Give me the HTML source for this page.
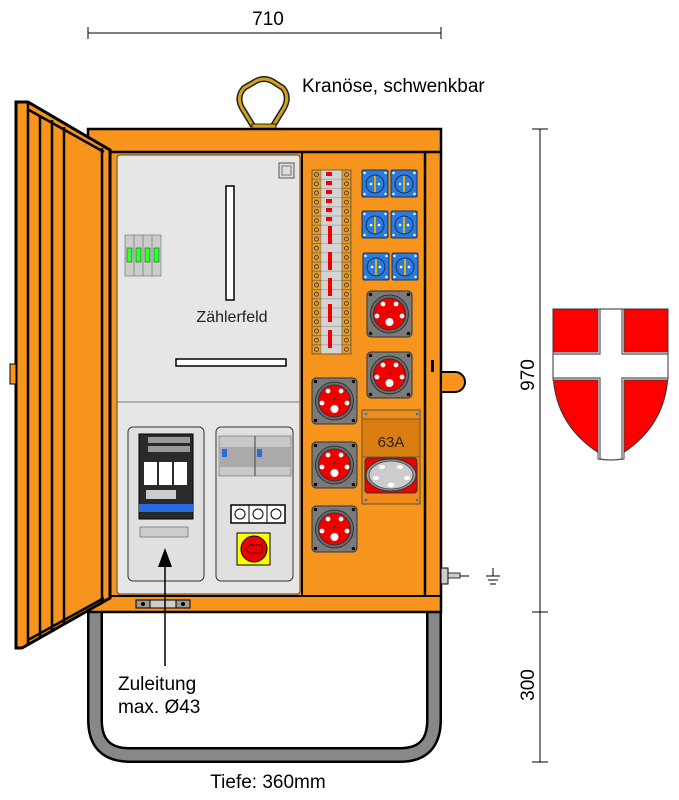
<!DOCTYPE html>
<html><head><meta charset="utf-8"><style>
html,body{margin:0;padding:0;background:#fff}
svg{display:block;font-family:"Liberation Sans",Arial,sans-serif}
</style></head><body>
<svg width="679" height="800" viewBox="0 0 679 800" xmlns="http://www.w3.org/2000/svg">
<defs>
<g id="cee">
<rect x="0" y="0" width="45" height="46" rx="4" fill="#7a7a7a" stroke="#333" stroke-width="1"/>
<circle cx="3.5" cy="3.5" r="1.8" fill="#111"/><circle cx="41.5" cy="3.5" r="1.8" fill="#111"/>
<circle cx="3.5" cy="42.5" r="1.8" fill="#111"/><circle cx="41.5" cy="42.5" r="1.8" fill="#111"/>
<circle cx="22.5" cy="23" r="19" fill="#6a6a6a" stroke="#333"/>
<circle cx="22.5" cy="23" r="16" fill="#e00" stroke="#333"/>
<circle cx="16" cy="13" r="2.4" fill="#fff"/><circle cx="29" cy="13" r="2.4" fill="#fff"/>
<circle cx="10" cy="25" r="2.4" fill="#fff"/><circle cx="35" cy="25" r="2.4" fill="#fff"/>
<circle cx="22.5" cy="31" r="4" fill="#fff"/><circle cx="22.5" cy="21" r="1" fill="#333"/>
</g>
<g id="schuko">
<rect x="0" y="0" width="26" height="27" rx="1.5" fill="#2a7ae0" stroke="#234"/>
<circle cx="2.5" cy="3" r="1.2" fill="#fff"/><circle cx="23.5" cy="3" r="1.2" fill="#fff"/>
<circle cx="2.5" cy="24" r="1.2" fill="#fff"/><circle cx="23.5" cy="24" r="1.2" fill="#fff"/>
<circle cx="13" cy="14" r="9" fill="#2a7ae0" stroke="#123" stroke-width="0.8"/>
<rect x="12" y="6" width="2" height="16" fill="#e0b000"/>
<circle cx="9" cy="14" r="1.3" fill="#fff"/><circle cx="17" cy="14" r="1.3" fill="#fff"/>
</g>
<pattern id="term" x="312" y="170" width="39" height="9.2" patternUnits="userSpaceOnUse">
<rect x="0" y="0" width="9" height="9.2" fill="#e89a2a" stroke="#553" stroke-width="0.6"/>
<circle cx="4.5" cy="4.6" r="2" fill="none" stroke="#333" stroke-width="0.8"/>
<rect x="9" y="0" width="21" height="9.2" fill="#d4d4d4" stroke="#888" stroke-width="0.5"/>
<rect x="30" y="0" width="9" height="9.2" fill="#e89a2a" stroke="#553" stroke-width="0.6"/>
<circle cx="34.5" cy="4.6" r="2" fill="none" stroke="#333" stroke-width="0.8"/>
</pattern>
</defs>

<line x1="88" y1="33" x2="441" y2="33" stroke="#000" stroke-width="1"/>
<line x1="88" y1="27" x2="88" y2="39" stroke="#000"/><line x1="441" y1="27" x2="441" y2="39" stroke="#000"/>
<text x="268" y="25" font-size="19" text-anchor="middle">710</text>
<text x="302" y="92" font-size="19">Kranöse, schwenkbar</text>

<path d="M95 608 V720 Q95 755 130 755 H400 Q434 755 434 720 V608" fill="none" stroke="#000" stroke-width="16"/>
<path d="M95 608 V720 Q95 755 130 755 H400 Q434 755 434 720 V608" fill="none" stroke="#888" stroke-width="11"/>

<path d="M253 126 L242 108 Q236 97 244 88 L256 81 Q264 77 272 81 L283 88 Q290 97 284 108 L273 126" fill="none" stroke="#222" stroke-width="6"/>
<path d="M253 126 L242 108 Q236 97 244 88 L256 81 Q264 77 272 81 L283 88 Q290 97 284 108 L273 126" fill="none" stroke="#d4a017" stroke-width="3"/>
<rect x="252" y="124" width="24" height="5" fill="#d4a017" stroke="#222"/>

<rect x="88" y="129" width="353" height="483" fill="#f7941d" stroke="#000" stroke-width="2.5"/>
<line x1="104" y1="152" x2="441" y2="152" stroke="#000" stroke-width="2.5"/>
<line x1="104" y1="596" x2="441" y2="596" stroke="#000" stroke-width="2"/>
<line x1="425" y1="152" x2="425" y2="596" stroke="#000" stroke-width="2.5"/>
<line x1="302" y1="152" x2="302" y2="596" stroke="#000" stroke-width="2"/>
<rect x="117" y="155" width="183" height="439" rx="3" fill="#e6e6e6" stroke="#444" stroke-width="1"/>
<line x1="117" y1="402" x2="300" y2="402" stroke="#777" stroke-width="1"/>
<rect x="279" y="163" width="15" height="15" fill="#ddd" stroke="#555"/>
<rect x="282" y="166" width="9" height="9" fill="none" stroke="#777"/>
<rect x="226" y="186" width="8" height="114" fill="#fff" stroke="#000" stroke-width="1.5"/>
<rect x="176" y="359" width="110" height="7" fill="#fff" stroke="#000" stroke-width="1.5"/>
<text x="232" y="322" font-size="16" text-anchor="middle" fill="#222">Zählerfeld</text>
<g stroke="#666" stroke-width="0.6">
<rect x="125" y="235" width="36" height="41" fill="#ccc"/>
<rect x="127" y="248" width="5" height="14" fill="#3f3" stroke="#060"/><rect x="136" y="248" width="5" height="14" fill="#3f3" stroke="#060"/>
<rect x="145" y="248" width="5" height="14" fill="#3f3" stroke="#060"/><rect x="154" y="248" width="5" height="14" fill="#3f3" stroke="#060"/>
<line x1="134" y1="235" x2="134" y2="276"/><line x1="143" y1="235" x2="143" y2="276"/><line x1="152" y1="235" x2="152" y2="276"/>
</g>
<rect x="128" y="427" width="76" height="154" rx="5" fill="#e0e0e0" stroke="#333"/>
<rect x="216" y="427" width="77" height="154" rx="5" fill="#e0e0e0" stroke="#333"/>
<rect x="139" y="434" width="54" height="85" fill="#2a2a2a" stroke="#000"/>
<rect x="148" y="437" width="42" height="6" fill="#999"/><rect x="148" y="446" width="42" height="6" fill="#999"/>
<rect x="144" y="462" width="13" height="23" fill="#fff"/><rect x="159" y="462" width="13" height="23" fill="#fff"/><rect x="174" y="462" width="13" height="23" fill="#fff"/>
<rect x="146" y="490" width="30" height="9" fill="#ccc"/>
<rect x="139" y="504" width="54" height="8" fill="#2a6ae0"/>
<rect x="140" y="527" width="48" height="10" fill="#ccc" stroke="#555" stroke-width="0.6"/>
<rect x="219" y="436" width="72" height="40" fill="#c8c8c8" stroke="#666" stroke-width="0.6"/>
<rect x="219" y="447" width="72" height="20" fill="#aaa"/>
<rect x="222" y="449" width="5" height="8" fill="#2a6ae0"/><rect x="257" y="449" width="5" height="8" fill="#2a6ae0"/>
<line x1="255" y1="436" x2="255" y2="476" stroke="#444"/>
<rect x="231" y="505" width="54" height="18" fill="#fff" stroke="#000" stroke-width="1.5"/>
<line x1="249" y1="505" x2="249" y2="523" stroke="#000"/><line x1="267" y1="505" x2="267" y2="523" stroke="#000"/>
<circle cx="240" cy="514" r="5" fill="none" stroke="#000"/><circle cx="258" cy="514" r="5" fill="none" stroke="#000"/><circle cx="276" cy="514" r="5" fill="none" stroke="#000"/>
<rect x="237" y="533" width="33" height="32" fill="#ff0" stroke="#000"/>
<circle cx="254" cy="549" r="13" fill="#e00" stroke="#000"/>
<path d="M245 549 L250 545 H262 V553 H250 Z" fill="#e00" stroke="#000" stroke-width="0.8"/>
<rect x="136" y="600" width="54" height="8" fill="#ccc" stroke="#000"/>
<rect x="136" y="600" width="14" height="8" fill="#999" stroke="#000"/><rect x="176" y="600" width="14" height="8" fill="#999" stroke="#000"/>
<circle cx="143" cy="604" r="2" fill="#000"/><circle cx="183" cy="604" r="2" fill="#000"/>
<line x1="165" y1="555" x2="165" y2="666" stroke="#000" stroke-width="1.5"/>
<path d="M158 567 L165 548 L172 567 Z" fill="#000"/>
<text x="118" y="690" font-size="19">Zuleitung</text>
<text x="118" y="713" font-size="19">max. Ø43</text>
<text x="268" y="788" font-size="19" text-anchor="middle">Tiefe: 360mm</text>

<rect x="312" y="170" width="39" height="184" fill="url(#term)" stroke="#553" stroke-width="0.8"/>
<g fill="#e00">
<rect x="326" y="172" width="6" height="4"/><rect x="326" y="181" width="6" height="4"/><rect x="326" y="190" width="6" height="4"/>
<rect x="326" y="199" width="6" height="4"/><rect x="326" y="208" width="6" height="4"/><rect x="326" y="217" width="6" height="4"/>
<rect x="328" y="226" width="4" height="18"/><rect x="328" y="252" width="4" height="18"/>
<rect x="328" y="278" width="4" height="18"/><rect x="328" y="304" width="4" height="18"/><rect x="328" y="330" width="4" height="18"/>
</g>
<use href="#schuko" x="362" y="170"/><use href="#schuko" x="391" y="170"/>
<use href="#schuko" x="362" y="211"/><use href="#schuko" x="391" y="211"/>
<use href="#schuko" x="363" y="253"/><use href="#schuko" x="392" y="253"/>
<use href="#cee" x="367" y="291"/>
<use href="#cee" x="367" y="352"/>
<use href="#cee" x="312" y="378"/>
<use href="#cee" x="312" y="442"/>
<use href="#cee" x="312" y="506"/>
<rect x="362" y="410" width="58" height="94" fill="#ef8c1a" stroke="#553"/>
<rect x="362" y="419" width="58" height="38" fill="#d97d10" stroke="#553" stroke-width="0.8"/>
<text x="391" y="447" font-size="15" text-anchor="middle" fill="#222">63A</text>
<rect x="365" y="458" width="52" height="35" rx="3" fill="#e00" stroke="#333"/>
<ellipse cx="391" cy="475" rx="25" ry="16" fill="#999" stroke="#333"/>
<ellipse cx="391" cy="475" rx="22" ry="14" fill="#ccc" stroke="#555"/>
<g fill="#fff"><ellipse cx="382" cy="467" rx="3" ry="2"/><ellipse cx="400" cy="467" rx="3" ry="2"/><ellipse cx="376" cy="478" rx="3" ry="2"/><ellipse cx="407" cy="478" rx="3" ry="2"/><ellipse cx="391" cy="485" rx="3.5" ry="2.2"/></g>
<g fill="#36f"><circle cx="366" cy="414" r="1.3"/><circle cx="417" cy="414" r="1.3"/><circle cx="366" cy="500" r="1.3"/><circle cx="417" cy="500" r="1.3"/></g>

<path d="M441 372 H455 A10 10 0 0 1 455 392 H441 Z" fill="#f7941d" stroke="#000" stroke-width="2"/>
<rect x="431" y="360" width="3" height="12" fill="#000"/>
<rect x="441" y="568" width="7" height="16" fill="#ccc" stroke="#000"/>
<rect x="448" y="573" width="12" height="5" fill="#ccc" stroke="#000" stroke-width="0.8"/>
<line x1="460" y1="576" x2="469" y2="576" stroke="#000"/>
<line x1="493" y1="568" x2="493" y2="576" stroke="#000"/>
<line x1="486" y1="576" x2="500" y2="576" stroke="#000"/><line x1="488" y1="580" x2="498" y2="580" stroke="#000"/><line x1="490" y1="584" x2="496" y2="584" stroke="#000"/>

<path d="M16 102 L28 102 L110 150 L110 598 L22 648 L16 648 Z" fill="#f7941d" stroke="#000" stroke-width="3"/>
<g stroke="#000" stroke-width="2.5">
<line x1="28" y1="102" x2="28" y2="645"/>
<line x1="29" y1="110" x2="104" y2="152"/>
<line x1="40" y1="117" x2="40" y2="638"/>
<line x1="52" y1="120" x2="52" y2="632"/>
<line x1="64" y1="127" x2="64" y2="624"/>
<line x1="102" y1="148" x2="102" y2="602"/>
<line x1="28" y1="640" x2="104" y2="598"/>
</g>
<rect x="10" y="364" width="6" height="20" fill="#f7941d" stroke="#000"/>

<line x1="540" y1="129" x2="540" y2="762" stroke="#000"/>
<line x1="532" y1="129" x2="548" y2="129" stroke="#000"/>
<line x1="532" y1="612" x2="548" y2="612" stroke="#000"/>
<line x1="532" y1="762" x2="548" y2="762" stroke="#000"/>
<text transform="translate(534 375) rotate(-90)" font-size="19" text-anchor="middle">970</text>
<text transform="translate(534 685) rotate(-90)" font-size="19" text-anchor="middle">300</text>

<path d="M553 309 H668 V370 Q668 430 611 460 Q553 430 553 370 Z" fill="#f00" stroke="#333" stroke-width="1"/>
<path d="M598 309 H624 V352 H668 V380 H624 V459 Q611 461 598 459 V380 H553 V352 H598 Z" fill="#fff" stroke="#444" stroke-width="1"/>
<path d="M600 309 H622 V354 H668 V378 H622 V459 Q611 461 600 459 V378 H553 V354 H600 Z" fill="#fff" stroke="#555" stroke-width="1.2"/>
</svg>
</body></html>
